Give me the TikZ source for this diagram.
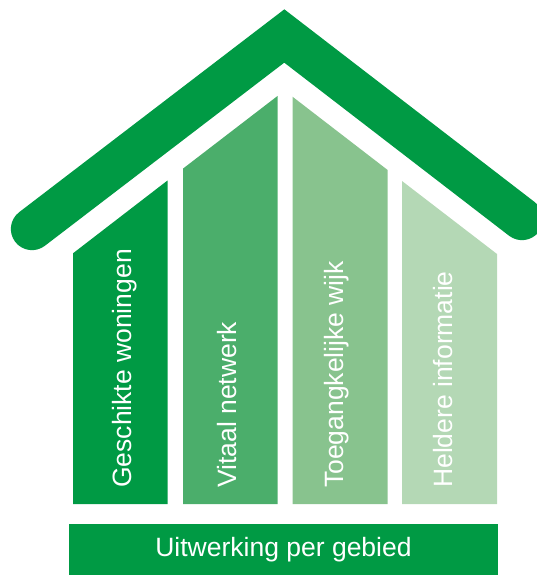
\documentclass[tikz,border=0pt]{standalone}
\usepackage{fontspec}
\setmainfont{Liberation Sans}
\definecolor{roofgreen}{RGB}{0,154,68}
\definecolor{pillartwo}{RGB}{75,174,107}
\definecolor{pillarthree}{RGB}{136,195,142}
\definecolor{pillarfour}{RGB}{180,216,181}

\begin{document}
\begin{tikzpicture}[x=1pt,y=-1pt,
		pillartext/.style={text=white,rotate=90,anchor=base west,inner sep=0pt,font=\fontsize{26.5}{30}\selectfont}]
	\useasboundingbox (0,0) rectangle (536,575);

	% roof
	\draw[roofgreen,line width=42.3pt,line cap=round,line join=miter] (32,229) -- (284.3,36) -- (522,219);

	% pillars
	\fill[roofgreen] (73,504) -- (73,253.3) -- (167.5,180.5) -- (167.5,504) -- cycle;
	\fill[pillartwo] (183,504) -- (183,168.6) -- (277.5,96) -- (277.5,504) -- cycle;
	\fill[pillarthree] (292.5,504) -- (292.5,96.7) -- (387.5,169.9) -- (387.5,504) -- cycle;
	\fill[pillarfour] (402,504) -- (402,181) -- (497,254) -- (497,504) -- cycle;

	\node[pillartext] (woningen) at (131,488) {Geschikte woningen};
	\node[pillartext] (netwerk) at (236.7,488) {Vitaal netwerk};
	\node[pillartext] (wijk) at (343.3,488) {Toegangkelijke wijk};
	\node[pillartext] (informatie) at (452.7,488) {Heldere informatie};

	% base
	\node[rectangle,fill=roofgreen,minimum width=429pt,minimum height=51pt,text=white,font=\fontsize{26.5}{30}\selectfont] (gebied) at (283.5,549.5) {Uitwerking per gebied};

\end{tikzpicture}
\end{document}
